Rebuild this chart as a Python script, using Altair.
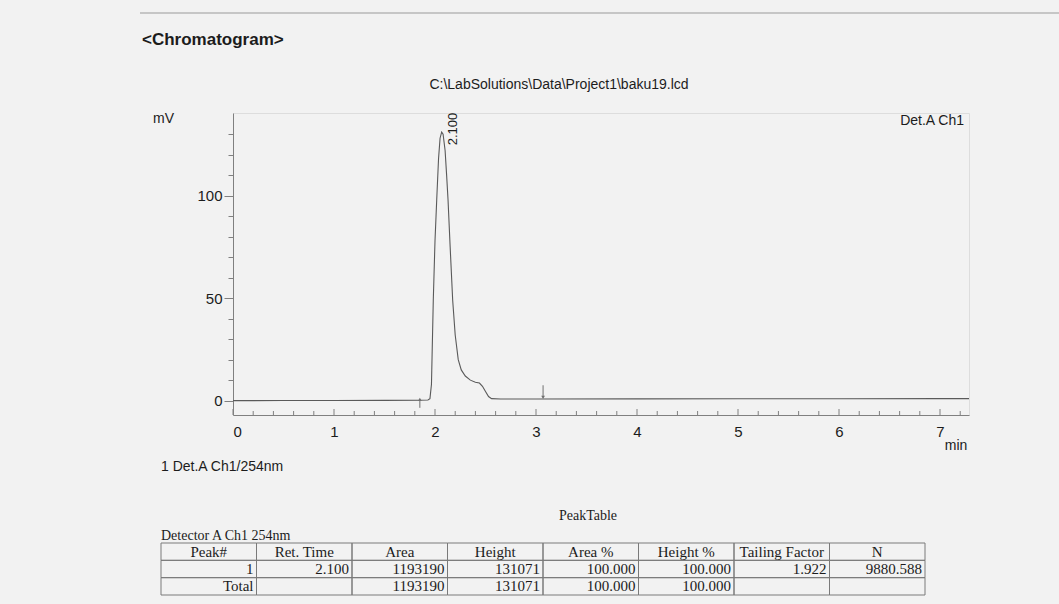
import altair as alt
import pandas as pd

# ---------------- data ----------------
# Chromatogram trace: time (min) and detector signal (mV)
time_min = [0.00, 0.50, 1.00, 1.50, 1.85, 1.93, 1.95, 1.965, 1.983, 2.000, 2.017,
            2.035, 2.050, 2.066, 2.080, 2.100, 2.115, 2.129, 2.150, 2.175, 2.200,
            2.230, 2.260, 2.300, 2.350, 2.400, 2.440, 2.470, 2.500, 2.530, 2.560,
            2.650, 3.000, 4.000, 5.000, 6.000, 7.000, 7.287]
signal_mv = [0.0, 0.05, 0.1, 0.15, 0.2, 0.3, 1.0, 8.0, 49.0, 78.0, 98.0,
             118.0, 128.0, 131.0, 130.0, 122.0, 110.0, 98.0, 75.0, 49.0, 32.0,
             20.0, 15.0, 12.0, 10.0, 9.0, 8.6, 7.0, 4.5, 2.0, 1.0,
             0.8, 0.8, 0.85, 0.9, 0.95, 1.0, 1.0]

# axis ticks
x_major_ticks = [0, 1, 2, 3, 4, 5, 6, 7]
x_minor_ticks = [0.2, 0.4, 0.6, 0.8, 1.2, 1.4, 1.6, 1.8, 2.2, 2.4, 2.6, 2.8,
                 3.2, 3.4, 3.6, 3.8, 4.2, 4.4, 4.6, 4.8, 5.2, 5.4, 5.6, 5.8,
                 6.2, 6.4, 6.6, 6.8, 7.2]
y_ticks = [0, 10, 20, 30, 40, 50, 60, 70, 80, 90, 100, 110, 120, 130]

# peak annotation
peak_rt = [2.100]
peak_label = ["2.100"]

# integration start / end markers (time, arrow tail mV, arrow head mV)
marker_time = [1.85, 3.07]
marker_tail = [-3.5, 7.5]
marker_head = [0.6, 1.6]
marker_shape = ["triangle-up", "triangle-down"]

# peak table
table_columns = ["Peak#", "Ret. Time", "Area", "Height", "Area %", "Height %",
                 "Tailing Factor", "N"]
row_peak = ["1", "2.100", "1193190", "131071", "100.000", "100.000", "1.922", "9880.588"]
row_total = ["Total", "", "1193190", "131071", "100.000", "100.000", "", ""]
table_rows = ["header", "peak", "total"]

# texts
title_text = "<Chromatogram>"
file_text = "C:\\LabSolutions\\Data\\Project1\\baku19.lcd"
channel_text = "Det.A Ch1"
legend_text = "1  Det.A Ch1/254nm"
peaktable_text = "PeakTable"
detector_text = "Detector A Ch1 254nm"

# ---------------- layout ----------------
W, H = 736, 302
INK = "#1c1c1c"
SANS = "Liberation Sans"
SERIF = "Liberation Serif"

xs = alt.Scale(domain=[0, 7.287], nice=False, zero=False)
ys = alt.Scale(domain=[-7, 140.3], nice=False, zero=False)

xa = alt.Axis(values=x_major_ticks, format="d", ticks=False, grid=False,
              title=None, domain=True, domainColor="#808080",
              labelFontSize=15, labelColor=INK, labelPadding=9,
              labelFont=SANS, labelOverlap=False)
ya = alt.Axis(values=y_ticks, grid=False, title=None, domainColor="#808080",
              labelExpr="(datum.value == 0 || datum.value == 50 || datum.value == 100) ? format(datum.value, 'd') : ''",
              labelOverlap=False, labelBound=False,
              tickSize={"condition": {"test": "datum.value % 50 == 0", "value": 9},
                        "value": 5},
              tickColor="#808080", labelFontSize=15, labelColor=INK,
              labelPadding=2, labelFont=SANS)

trace_df = pd.DataFrame({"t": time_min, "mv": signal_mv})

line = alt.Chart(trace_df).mark_line(color="#5a5a5a", strokeWidth=1.1).encode(
    x=alt.X("t:Q", scale=xs, axis=xa),
    y=alt.Y("mv:Q", scale=ys, axis=ya),
)

minor_x = alt.Chart(pd.DataFrame({"t": x_minor_ticks})).mark_rule(
    color="#808080", strokeWidth=1).encode(
    x=alt.X("t:Q", scale=xs, axis=xa), y=alt.value(H), y2=alt.value(H - 4))
major_x = alt.Chart(pd.DataFrame({"t": x_major_ticks})).mark_rule(
    color="#808080", strokeWidth=1).encode(
    x=alt.X("t:Q", scale=xs, axis=xa), y=alt.value(H), y2=alt.value(H - 6))

marker_df = pd.DataFrame({"t": marker_time, "a": marker_tail, "b": marker_head,
                          "shape": marker_shape})
marker_rule = alt.Chart(marker_df).mark_rule(color="#707070", strokeWidth=1).encode(
    x=alt.X("t:Q", scale=xs, axis=xa), y=alt.Y("a:Q", scale=ys, axis=ya), y2="b:Q")
marker_head_pt = alt.Chart(marker_df).mark_point(
    filled=True, color="#707070", size=14, opacity=1).encode(
    x=alt.X("t:Q", scale=xs, axis=xa), y=alt.Y("b:Q", scale=ys, axis=ya),
    shape=alt.Shape("shape:N", scale=None, legend=None))

peak_text = alt.Chart(pd.DataFrame({"rt": peak_rt, "label": peak_label})).mark_text(
    angle=270, fontSize=13, font=SANS, color=INK, align="center", baseline="middle",
    dy=8).encode(x=alt.X("rt:Q", scale=xs, axis=xa), y=alt.value(16), text="label:N")

chrom = alt.layer(line, minor_x, major_x, marker_rule, marker_head_pt, peak_text)

# ---------------- peak table ----------------
cells = []
for r, vals in zip(table_rows, [table_columns, row_peak, row_total]):
    for c, v in zip(table_columns, vals):
        cells.append({"col": c, "row": r, "text": v})
cells_df = pd.DataFrame(cells)

tx = alt.Scale(domain=table_columns, range=[-72, 692], paddingInner=0, paddingOuter=0)
ty = alt.Scale(domain=table_rows, range=[430, 482], paddingInner=0, paddingOuter=0)

table_rect = alt.Chart(cells_df).mark_rect(
    fillOpacity=0, stroke="#7a7a7a", strokeWidth=1).encode(
    x=alt.X("col:N", scale=tx, axis=None), y=alt.Y("row:N", scale=ty, axis=None))

header_text = alt.Chart(cells_df).transform_filter(
    "datum.row === 'header'").mark_text(
    font=SERIF, fontSize=15, color=INK, align="center", baseline="middle").encode(
    x=alt.X("col:N", scale=tx, axis=None), y=alt.Y("row:N", scale=ty, axis=None),
    text="text:N")

body_text = alt.Chart(cells_df).transform_filter(
    "datum.row !== 'header'").mark_text(
    font=SERIF, fontSize=15, color=INK, align="right", baseline="middle", dx=-3).encode(
    x=alt.X("col:N", scale=tx, axis=None, bandPosition=1),
    y=alt.Y("row:N", scale=ty, axis=None), text="text:N")

table = alt.layer(table_rect, header_text, body_text)

# ---------------- free texts ----------------
one = pd.DataFrame({"k": [0]})


def label(txt, x, y, size=14, align="left", font=SANS, weight="normal"):
    return alt.Chart(one).mark_text(
        text=txt, fontSize=size, font=font, fontWeight=weight, color=INK,
        align=align, baseline="middle").encode(x=alt.value(x), y=alt.value(y))


texts = alt.layer(
    label(title_text, -91, -73, size=17, weight="bold"),
    label(file_text, 326, -28, size=14, align="center"),
    label("mV", -80, 6, size=14),
    label(channel_text, 731, 8, size=14, align="right"),
    label("min", 723, 333, size=14, align="center"),
    label(legend_text, -72, 354, size=14),
    label(peaktable_text, 355, 403, size=14, align="center", font=SERIF),
    label(detector_text, -72, 423, size=14, font=SERIF),
    alt.Chart(one).mark_rule(color="#9a9a9a", strokeWidth=1).encode(
        x=alt.value(-93), x2=alt.value(826), y=alt.value(-100)),
)

chart = alt.layer(chrom, table, texts).resolve_scale(
    x="independent", y="independent"
).properties(
    width=W, height=H, autosize="none",
    padding={"left": 233, "top": 113, "right": 90, "bottom": 189},
    background="#f2f2f2",
).configure_view(stroke="#808080", strokeWidth=1).configure(font=SANS)

chart.save("out.html", embed_options={"renderer": "svg", "actions": False})
